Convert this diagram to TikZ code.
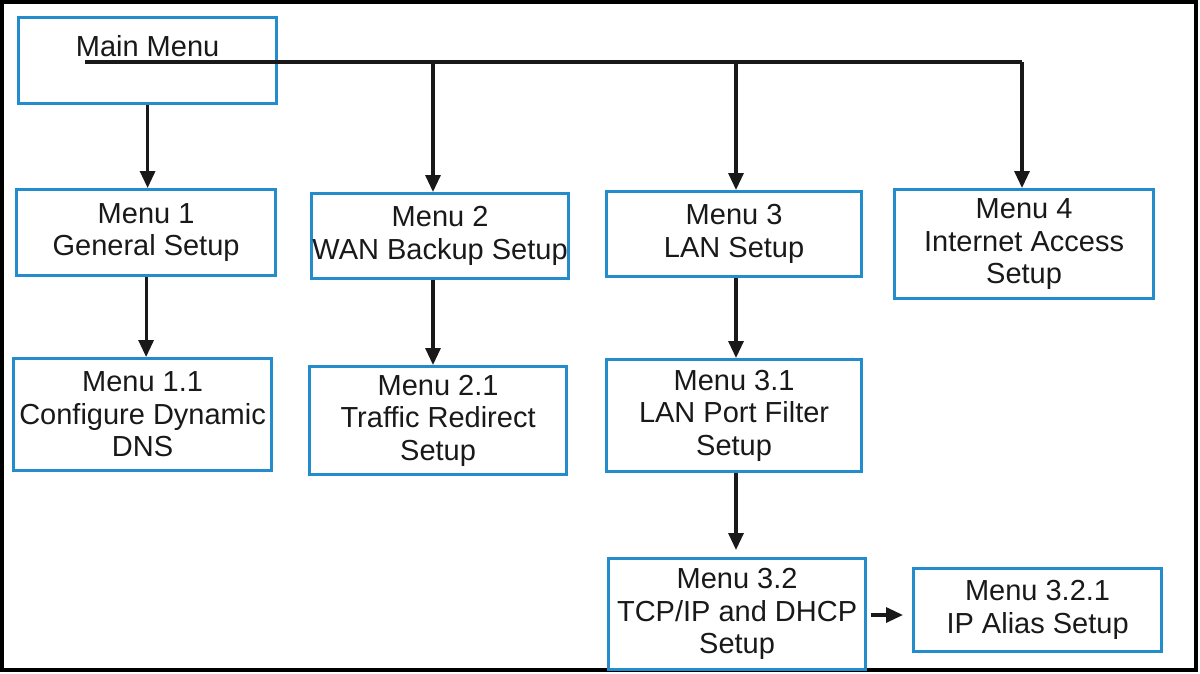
\documentclass[tikz,border=0pt]{standalone}
\usepackage{fontspec}
\setmainfont{Liberation Sans}
\usetikzlibrary{arrows.meta}
\definecolor{boxblue}{RGB}{35,140,205}
\definecolor{ink}{RGB}{25,25,25}
\begin{document}
\begin{tikzpicture}[x=1pt,y=-1pt,
  menubox/.style={draw=boxblue, line width=3.2pt, align=center, inner sep=0pt,
    anchor=north west, text=ink, font=\fontsize{29}{32.5}\selectfont},
  conn/.style={line width=3.2pt, draw=ink},
  arr/.style={conn, -{Triangle[width=15pt,length=17pt]}}]
\useasboundingbox (0,0) rectangle (1200,673);
\draw[line width=3.5pt] (2,2) rectangle (1196,670);
% boxes
\node[menubox, minimum width=258pt, minimum height=86pt, text height=39pt, text depth=47pt] (main) at (17,16) {Main Menu};
\node[menubox, minimum width=259pt, minimum height=86pt] (m1) at (15,188) {Menu 1\\General Setup};
\node[menubox, minimum width=257pt, minimum height=85pt] (m2) at (310,192) {Menu 2\\WAN Backup Setup};
\node[menubox, minimum width=255pt, minimum height=85pt] (m3) at (605,190) {Menu 3\\LAN Setup};
\node[menubox, minimum width=259pt, minimum height=109pt] (m4) at (893,188) {Menu 4\\Internet Access\\Setup};
\node[menubox, minimum width=258pt, minimum height=112pt] (m11) at (12,357) {Menu 1.1\\Configure Dynamic\\DNS};
\node[menubox, minimum width=257pt, minimum height=108pt] (m21) at (308,365) {Menu 2.1\\Traffic Redirect\\Setup};
\node[menubox, minimum width=255pt, minimum height=112pt] (m31) at (605,358) {Menu 3.1\\LAN Port Filter\\Setup};
\node[menubox, minimum width=257pt, minimum height=111pt] (m32) at (607,557) {Menu 3.2\\TCP/IP and DHCP\\Setup};
\node[menubox, minimum width=248pt, minimum height=83pt] (m321) at (912,567) {Menu 3.2.1\\IP Alias Setup};
% bus line
\coordinate (bs) at (85,62);
\coordinate (be) at (1022,62);
\coordinate (j2) at (433,62);
\coordinate (j3) at (736,62);
\coordinate (h) at (903,615);
\draw[conn] (bs) -- (be);
\draw[arr] (main.south) -- (main.south |- m1.north);
\draw[arr] (j2) -- (j2 |- m2.north);
\draw[arr] (j3) -- (j3 |- m3.north);
\draw[arr] (be) -- (be |- m4.north);
\draw[arr] (m1.south) -- (m1.south |- m11.north);
\draw[arr] (j2 |- m2.south) -- (j2 |- m21.north);
\draw[arr] (j3 |- m3.south) -- (j3 |- m31.north);
\draw[arr, shorten >=7pt] (j3 |- m31.south) -- (j3 |- m32.north);
\draw[arr] ([xshift=4pt]m32.east |- h) -- (h);
\end{tikzpicture}
\end{document}
